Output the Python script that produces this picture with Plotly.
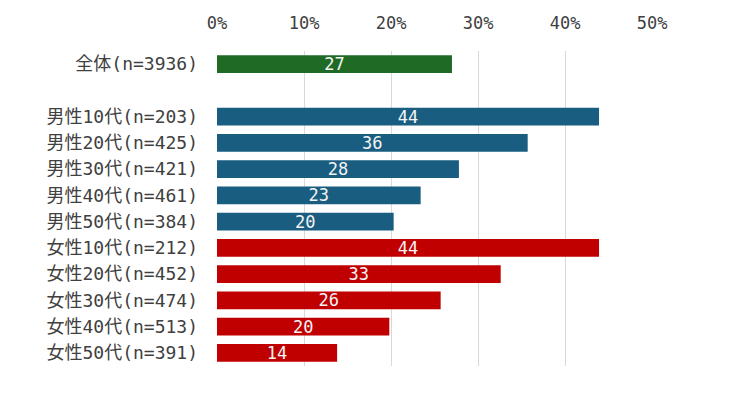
import plotly.graph_objects as go

categories = ["全体(n=3936)", " ",
              "男性10代(n=203)", "男性20代(n=425)", "男性30代(n=421)", "男性40代(n=461)", "男性50代(n=384)",
              "女性10代(n=212)", "女性20代(n=452)", "女性30代(n=474)", "女性40代(n=513)", "女性50代(n=391)"]
values = [27.0, None, 43.9, 35.7, 27.8, 23.4, 20.3, 43.9, 32.6, 25.7, 19.8, 13.8]
labels = ["27", "", "44", "36", "28", "23", "20", "44", "33", "26", "20", "14"]
groups = ["all", "blank", "m", "m", "m", "m", "m", "f", "f", "f", "f", "f"]
group_colors = {"all": "#1f6b26", "blank": "rgba(0,0,0,0)", "m": "#195e80", "f": "#c00000"}
tick_vals = [0, 10, 20, 30, 40, 50]
tick_text = ["0%", "10%", "20%", "30%", "40%", "50%"]

FONT = "DejaVu Sans Mono, Noto Sans CJK JP"

fig = go.Figure(go.Bar(
    x=values, y=categories, orientation="h",
    marker=dict(color=[group_colors[g] for g in groups], line=dict(width=0)),
    text=labels, textposition="inside", insidetextanchor="middle",
    textfont=dict(family=FONT, size=17, color="#f4f4f4"),
    textangle=0, hoverinfo="skip",
))

fig.update_layout(
    width=730, height=410,
    margin=dict(l=209, r=85, t=43, b=52),
    paper_bgcolor="white", plot_bgcolor="white",
    bargap=0.33, showlegend=False,
    uniformtext=dict(minsize=17, mode="show"),
    xaxis=dict(range=[0, 50.1], side="top", tickvals=tick_vals, ticktext=tick_text,
               showgrid=True, gridcolor="#d9d9d9", gridwidth=1, zeroline=False,
               showline=False, ticks="", ticklabelstandoff=18, automargin=False,
               tickfont=dict(family=FONT, size=17, color="#404040")),
    yaxis=dict(type="category", categoryorder="array", categoryarray=categories,
               autorange="reversed", showgrid=False, zeroline=False, showline=False,
               ticks="", ticklabelstandoff=18, automargin=False,
               tickfont=dict(family=FONT, size=18, color="#404040")),
)

fig.write_html("out.html")
